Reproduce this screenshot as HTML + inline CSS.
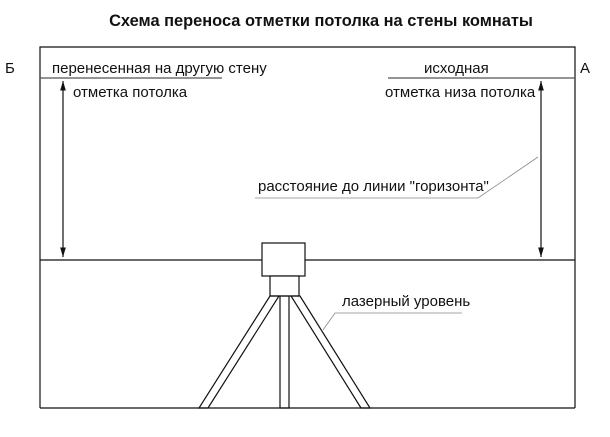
<!DOCTYPE html>
<html><head><meta charset="utf-8"><style>body{margin:0;background:#fff}svg{display:block}text{font-family:"Liberation Sans",Arial,sans-serif;fill:#111}</style></head><body>
<svg width="610" height="437" viewBox="0 0 610 437" xmlns="http://www.w3.org/2000/svg">
<defs><marker id="a" viewBox="0 0 10 10" refX="10" refY="5" markerWidth="8" markerHeight="8" orient="auto-start-reverse"><path d="M0,2 L10,5 L0,8 z" fill="#111"/></marker></defs>
<text x="321" y="26" font-size="16.4" font-weight="bold" text-anchor="middle">Схема переноса отметки потолка на стены комнаты</text>
<g stroke="#111" stroke-width="1.2" fill="none">
<polyline points="40,408 40,47 575,47 575,408"/>
<line x1="40" y1="408" x2="575" y2="408"/>
<line x1="40" y1="78" x2="222" y2="78" stroke="#555"/>
<line x1="388" y1="78" x2="575" y2="78" stroke="#555"/>
<line x1="40" y1="260" x2="262" y2="260"/>
<line x1="305" y1="260" x2="575" y2="260"/>
<line x1="63" y1="81" x2="63" y2="257" marker-start="url(#a)" marker-end="url(#a)"/>
<line x1="541" y1="81" x2="541" y2="257" marker-start="url(#a)" marker-end="url(#a)"/>
<polyline points="538,157 478,198 255,198" stroke="#888" stroke-width="0.8"/>
<polyline points="323,330 335,313 462,313" stroke="#888" stroke-width="0.8"/>
<rect x="262" y="243" width="43" height="33" fill="#fff"/>
<rect x="270" y="276" width="29" height="20" fill="#fff"/>
<polygon points="270,296 279,296 208,408 199,408"/>
<polygon points="291,296 300,296 370,408 361,408"/>
<rect x="280" y="296" width="9" height="112"/>
</g>
<g font-size="15">
<text x="5" y="73">Б</text>
<text x="52" y="73">перенесенная на другую стену</text>
<text x="73" y="97">отметка потолка</text>
<text x="580" y="73">А</text>
<text x="424" y="73">исходная</text>
<text x="385" y="97">отметка низа потолка</text>
<text x="258" y="191">расстояние до линии "горизонта"</text>
<text x="342" y="306">лазерный уровень</text>
</g>
</svg>
</body></html>
